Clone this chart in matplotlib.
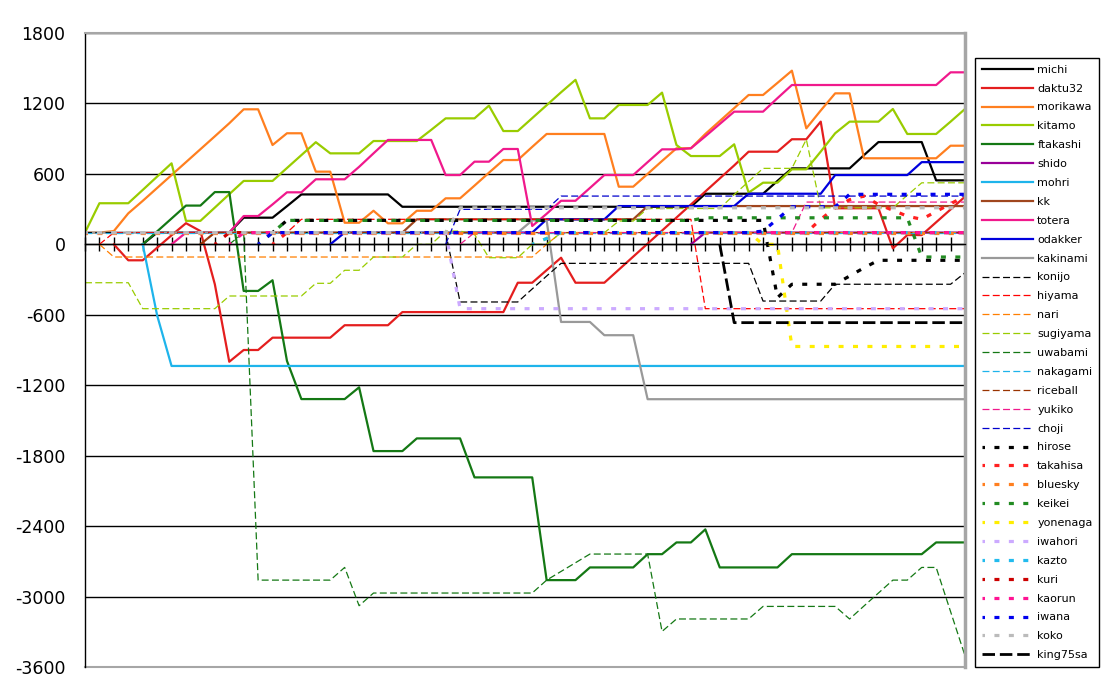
import numpy as np
import matplotlib.pyplot as plt

plt.rcParams['font.family'] = ['DejaVu Sans']
plt.rcParams['axes.unicode_minus'] = False
plt.rcParams['lines.scale_dashes'] = False

N = None
rounds = np.arange(62)

# solid
michi = [N, N, N, N, 0, 100, 100, 100, 100, 100,
         100, 227, 227, 227, 325, 425, 425, 425, 425, 425,
         425, 425, 320, 320, 320, 320, 320, 320, 320, 320,
         320, 320, 320, 320, 320, 320, 320, 320, 320, 320,
         320, 320, 320, 431, 431, 431, 431, 431, 540, 647,
         647, 647, 647, 647, 760, 871, 871, 871, 871, 545,
         545, 545]
daktu32 = [N, N, 0, -136, -136, -29, 77, 180, 113, -340,
           -1000, -900, -900, -795, -795, -795, -795, -795, -689, -689,
           -689, -689, -577, -577, -577, -577, -577, -577, -577, -577,
           -327, -327, -220, -114, -327, -327, -327, -216, -105, 6,
           117, 228, 339, 450, 561, 672, 789, 789, 789, 895,
           895, 1045, 307, 307, 307, 307, -34, 79, 79, 188,
           297, 406]
morikawa = [100, 100, 113, 264, 370, 480, 590, 700, 810, 920,
            1031, 1150, 1150, 846, 946, 946, 619, 619, 184, 184,
            286, 179, 179, 286, 286, 392, 392, 500, 610, 718,
            718, 830, 940, 940, 940, 940, 940, 491, 491, 600,
            710, 818, 818, 940, 1050, 1160, 1272, 1272, 1375, 1479,
            988, 1140, 1286, 1286, 733, 733, 733, 733, 733, 733,
            840, 840]
kitamo = [100, 350, 350, 350, 463, 577, 690, 200, 200, 313,
          427, 540, 540, 540, 650, 760, 870, 775, 775, 775,
          880, 880, 880, 880, 975, 1073, 1073, 1073, 1181, 965,
          965, 1075, 1185, 1295, 1401, 1073, 1073, 1187, 1187, 1187,
          1292, 846, 752, 752, 752, 852, 440, 525, 525, 639,
          639, 790, 946, 1045, 1045, 1045, 1153, 940, 940, 940,
          1045, 1153]
ftakashi = [N, N, N, N, 0, 110, 220, 330, 330, 445,
            445, -397, -397, -306, -993, -1318, -1318, -1318, -1318, -1218,
            -1761, -1761, -1761, -1653, -1653, -1653, -1653, -1985, -1985, -1985,
            -1985, -1985, -2860, -2860, -2860, -2752, -2752, -2752, -2752, -2639,
            -2639, -2539, -2539, -2428, -2752, -2752, -2752, -2752, -2752, -2639,
            -2639, -2639, -2639, -2639, -2639, -2639, -2639, -2639, -2639, -2539,
            -2539, -2539]
shido = [N, N, N, N, N, N, N, N, N, N,
         N, N, N, N, N, N, N, N, N, N,
         N, N, N, N, N, N, N, N, N, N,
         N, N, N, N, N, N, N, N, N, N,
         N, N, 0, 100, 100, 100, 100, 100, 100, 100,
         100, 100, 100, 100, 100, 100, 100, 100, 100, 100,
         100, 100]
mohri = [N, N, N, N, 0, -605, -1036, -1036, -1036, -1036,
         -1036, -1036, -1036, -1036, -1036, -1036, -1036, -1036, -1036, -1036,
         -1036, -1036, -1036, -1036, -1036, -1036, -1036, -1036, -1036, -1036,
         -1036, -1036, -1036, -1036, -1036, -1036, -1036, -1036, -1036, -1036,
         -1036, -1036, -1036, -1036, -1036, -1036, -1036, -1036, -1036, -1036,
         -1036, -1036, -1036, -1036, -1036, -1036, -1036, -1036, -1036, -1036,
         -1036, -1036]
kk = [N, N, N, N, N, N, N, N, 0, 100,
      100, 100, 100, 100, 100, 100, 100, 100, 100, 100,
      100, 100, 100, 213, 213, 213, 213, 213, 213, 213,
      213, 213, 213, 213, 213, 213, 213, 213, 213, 326,
      326, 326, 326, 326, 326, 326, 326, 326, 326, 326,
      326, 326, 326, 326, 326, 326, 326, 326, 326, 326,
      326, 326]
totera = [N, N, N, N, N, N, 0, 100, 100, 100,
          100, 241, 241, 340, 443, 443, 554, 554, 554, 660,
          775, 889, 889, 889, 889, 590, 590, 704, 704, 812,
          812, 156, 260, 371, 371, 480, 590, 590, 590, 700,
          809, 809, 818, 920, 1025, 1130, 1130, 1130, 1245, 1357,
          1357, 1357, 1357, 1357, 1357, 1357, 1357, 1357, 1357, 1357,
          1465, 1465]
odakker = [N, N, N, N, N, N, N, N, N, N,
           N, N, N, N, N, N, N, 0, 100, 100,
           100, 100, 100, 100, 100, 100, 100, 100, 100, 100,
           100, 100, 213, 213, 213, 213, 213, 326, 326, 326,
           326, 326, 326, 326, 326, 326, 431, 431, 431, 431,
           431, 431, 590, 590, 590, 590, 590, 590, 700, 700,
           700, 700]
kakinami = [100, 100, 100, 100, 100, 100, 100, 100, 100, 100,
            100, 100, 100, 100, 100, 100, 100, 100, 100, 100,
            100, 100, 100, 100, 100, 100, 100, 100, 100, 100,
            100, 204, 204, -661, -661, -661, -774, -774, -774, -1319,
            -1319, -1319, -1319, -1319, -1319, -1319, -1319, -1319, -1319, -1319,
            -1319, -1319, -1319, -1319, -1319, -1319, -1319, -1319, -1319, -1319,
            -1319, -1319]

# thin dashed
konijo = [100, 100, 100, 100, 100, 100, 100, 100, 100, 100,
          100, 100, 100, 100, 100, 100, 100, 100, 100, 100,
          100, 100, 100, 100, 100, 100, -491, -491, -491, -491,
          -491, -380, -270, -162, -162, -162, -162, -162, -162, -162,
          -162, -162, -162, -162, -162, -162, -162, -483, -483, -483,
          -483, -483, -340, -340, -340, -340, -340, -340, -340, -340,
          -340, -242]
hiyama = [N, 0, 100, 100, 100, 100, 100, 100, 100, 100,
          100, 100, 100, 100, 100, 213, 213, 213, 213, 213,
          213, 213, 213, 213, 213, 213, 213, 213, 213, 213,
          213, 213, 213, 213, 213, 213, 213, 213, 213, 213,
          213, 213, 213, -548, -548, -548, -548, -548, -548, -548,
          -548, -548, -548, -548, -548, -548, -548, -548, -548, -548,
          -548, -548]
nari = [N, 0, -108, -108, -108, -108, -108, -108, -108, -108,
        -108, -108, -108, -108, -108, -108, -108, -108, -108, -108,
        -108, -108, -108, -108, -108, -108, -108, -108, -108, -108,
        -108, -108, 0, 100, 100, 100, 100, 100, 100, 100,
        100, 100, 100, 100, 100, 100, 100, 100, 100, 100,
        100, 100, 100, 100, 100, 100, 100, 100, 100, 100,
        100, 100]
sugiyama = [-327, -327, -327, -327, -548, -548, -548, -548, -548, -548,
            -440, -440, -440, -440, -440, -440, -332, -332, -221, -221,
            -108, -108, -108, 0, 0, 113, 113, 85, -114, -114,
            -114, 0, 0, 99, 99, 99, 99, 198, 198, 305,
            305, 305, 305, 305, 305, 423, 535, 647, 647, 647,
            894, 311, 311, 311, 311, 311, 311, 418, 524, 524,
            524, 524]
uwabami = [N, N, N, N, N, N, N, N, N, N,
           0, 100, -2860, -2860, -2860, -2860, -2860, -2860, -2752, -3078,
           -2970, -2970, -2970, -2970, -2970, -2970, -2970, -2970, -2970, -2970,
           -2970, -2970, -2860, -2786, -2712, -2638, -2638, -2638, -2638, -2638,
           -3297, -3191, -3191, -3191, -3191, -3191, -3191, -3084, -3084, -3084,
           -3084, -3084, -3084, -3191, -3080, -2970, -2860, -2860, -2752, -2752,
           -3128, -3504]
nakagami = [100, 100, 100, 100, 100, 100, 100, 100, 100, 100,
            100, 100, 100, 100, 100, 100, 100, 100, 100, 100,
            100, 100, 100, 100, 100, 100, 100, 100, 100, 100,
            100, 100, 100, 100, 100, 100, 100, 100, 100, 100,
            100, 100, 100, 100, 100, 100, 100, 100, 100, 100,
            100, 100, 100, 100, 100, 100, 100, 100, 100, 100,
            100, 100]
riceball = [N, N, N, N, N, N, N, N, 0, 100,
            100, 100, 100, 100, 100, 100, 100, 100, 100, 100,
            100, 100, 100, 100, 100, 100, 100, 100, 100, 100,
            100, 100, 100, 100, 100, 100, 100, 100, 100, 100,
            100, 100, 100, 100, 100, 100, 100, 100, 100, 100,
            100, 100, 100, 100, 100, 100, 100, 100, 100, 100,
            100, 100]
yukiko = [N, N, N, N, N, N, N, N, N, N,
          N, N, N, N, N, N, N, N, N, N,
          N, N, N, N, N, N, 0, 100, 100, 100,
          100, 100, 100, 100, 100, 100, 100, 100, 100, 100,
          100, 100, 100, 100, 100, 100, 100, 100, 100, 100,
          360, 360, 360, 360, 360, 360, 360, 360, 360, 360,
          360, 360]
choji = [N, N, N, N, N, N, N, N, N, N,
         N, N, N, N, N, N, N, N, N, N,
         N, N, N, N, N, 0, 298, 298, 298, 298,
         298, 298, 298, 411, 411, 411, 411, 411, 411, 411,
         411, 411, 411, 411, 411, 411, 411, 411, 411, 411,
         411, 411, 411, 411, 411, 411, 411, 411, 411, 411,
         411, 411]

# dotted
hirose = [N, N, N, N, N, N, N, N, N, N,
          N, N, N, 100, 204, 204, 204, 204, 204, 204,
          204, 204, 204, 204, 204, 204, 204, 204, 204, 204,
          204, 204, 204, 204, 204, 204, 204, 204, 204, 204,
          204, 204, 204, 204, 204, 204, 204, 204, -454, -340,
          -340, -340, -340, -270, -200, -136, -136, -136, -136, -136,
          -136, -136]
takahisa = [N, N, N, N, N, N, N, N, N, N,
            N, N, N, 0, 100, 100, 100, 100, 100, 100,
            100, 100, 100, 100, 100, 100, 100, 100, 100, 100,
            100, 100, 100, 100, 100, 100, 100, 100, 100, 100,
            100, 100, 100, 100, 100, 100, 100, 100, 100, 100,
            100, 213, 311, 380, 411, 340, 290, 240, 213, 280,
            345, 411]
bluesky = [100, 100, 100, 100, 100, 100, 100, 100, 100, 100,
           100, 100, 100, 100, 100, 100, 100, 100, 100, 100,
           100, 100, 100, 100, 100, 100, 100, 100, 100, 100,
           100, 100, 100, 100, 100, 100, 100, 100, 100, 100,
           100, 100, 100, 100, 100, 100, 100, 100, 100, 100,
           100, 100, 100, 100, 100, 100, 100, 100, 100, 100,
           100, 100]
keikei = [N, N, N, N, N, N, N, N, N, N,
          N, N, 0, 100, 204, 204, 204, 204, 204, 204,
          204, 204, 204, 204, 204, 204, 204, 204, 204, 204,
          204, 204, 204, 204, 204, 204, 204, 204, 204, 204,
          204, 204, 204, 226, 226, 226, 226, 226, 226, 226,
          226, 226, 226, 226, 226, 226, 226, 226, -108, -108,
          -108, -108]
yonenaga = [N, N, N, N, N, N, N, N, N, N,
            N, N, N, N, N, N, N, N, N, N,
            N, N, N, N, N, N, N, N, N, N,
            N, 0, 50, 100, 100, 100, 100, 100, 100, 100,
            100, 100, 100, 100, 100, 100, 100, 0, 0, -870,
            -870, -870, -870, -870, -870, -870, -870, -870, -870, -870,
            -870, -870]
iwahori = [100, 100, 100, 100, 100, 100, 100, 100, 100, 100,
           100, 100, 100, 100, 100, 100, 100, 100, 100, 100,
           100, 100, 100, 100, 100, 100, -548, -548, -548, -548,
           -548, -548, -548, -548, -548, -548, -548, -548, -548, -548,
           -548, -548, -548, -548, -548, -548, -548, -548, -548, -548,
           -548, -548, -548, -548, -548, -548, -548, -548, -548, -548,
           -548, -548]
kazto = [N, N, N, N, N, N, N, N, N, N,
         N, N, N, N, N, N, N, N, N, N,
         N, N, N, N, N, N, N, N, N, N,
         N, 0, 50, 100, 100, 100, 100, 100, 100, 100,
         100, 100, 100, 100, 100, 100, 100, 100, 100, 100,
         100, 100, 100, 100, 100, 100, 100, 100, 100, 100,
         100, 100]
kuri = [N, N, N, N, N, N, N, N, N, 0,
        100, 100, 100, 100, 100, 100, 100, 100, 100, 100,
        100, 100, 100, 100, 100, 100, 100, 100, 100, 100,
        100, 100, 100, 100, 100, 100, 100, 100, 100, 100,
        100, 100, 100, 100, 100, 100, 100, 100, 100, 100,
        100, 100, 100, 100, 100, 100, 100, 100, 100, 100,
        100, 100]
kaorun = [N, N, N, N, N, N, N, N, N, N,
          0, 100, 100, 100, 100, 100, 100, 100, 100, 100,
          100, 100, 100, 100, 100, 100, 100, 100, 100, 100,
          100, 100, 100, 100, 100, 100, 100, 100, 100, 100,
          100, 100, 100, 100, 100, 100, 100, 100, 100, 100,
          100, 100, 100, 100, 100, 100, 100, 100, 100, 100,
          100, 100]
iwana = [N, N, N, N, N, N, N, N, N, N,
         N, N, 0, 100, 100, 100, 100, 100, 100, 100,
         100, 100, 100, 100, 100, 100, 100, 100, 100, 100,
         100, 100, 100, 100, 100, 100, 100, 100, 100, 100,
         100, 100, 100, 100, 100, 100, 100, 113, 215, 320,
         320, 320, 320, 426, 426, 426, 426, 426, 426, 426,
         426, 426]
koko = [100, 100, 100, 100, 100, 100, 100, 100, 100, 100,
        100, 100, 100, 100, 100, 100, 100, 100, 100, 100,
        100, 100, 100, 100, 100, 100, 311, 311, 311, 311,
        311, 311, 311, 311, 311, 311, 311, 311, 311, 311,
        311, 311, 311, 311, 311, 311, 311, 311, 311, 311,
        311, 311, 311, 311, 311, 311, 311, 311, 311, 311,
        311, 311]

# long dash
king75sa = [N, N, N, N, N, N, N, N, N, N,
            N, N, N, N, N, N, N, N, N, N,
            N, N, N, N, N, N, N, N, N, N,
            N, N, N, N, N, N, N, N, N, N,
            N, N, N, N, 0, -667, -667, -667, -667, -667,
            -667, -667, -667, -667, -667, -667, -667, -667, -667, -667,
            -667, -667]

names = ["michi", "daktu32", "morikawa", "kitamo", "ftakashi", "shido", "mohri",
         "kk", "totera", "odakker", "kakinami",
         "konijo", "hiyama", "nari", "sugiyama", "uwabami", "nakagami", "riceball",
         "yukiko", "choji",
         "hirose", "takahisa", "bluesky", "keikei", "yonenaga", "iwahori", "kazto",
         "kuri", "kaorun", "iwana", "koko",
         "king75sa"]
series = [michi, daktu32, morikawa, kitamo, ftakashi, shido, mohri, kk, totera,
          odakker, kakinami,
          konijo, hiyama, nari, sugiyama, uwabami, nakagami, riceball, yukiko, choji,
          hirose, takahisa, bluesky, keikei, yonenaga, iwahori, kazto, kuri, kaorun,
          iwana, koko,
          king75sa]
colors = ["#000000", "#e41e1e", "#ff7f1f", "#99cc00", "#147814", "#990099",
          "#1eb4eb", "#a0461e", "#f0198c", "#0000dd", "#999999",
          "#000000", "#ff0000", "#ff7f00", "#99cc00", "#147814", "#1eb4eb",
          "#993300", "#f0198c", "#0000cc",
          "#000000", "#ff2020", "#ff7f1f", "#228b22", "#ffee00", "#ccaaff",
          "#22bbee", "#cc0000", "#ff1493", "#0000ee", "#bbbbbb",
          "#000000"]
kinds = ["solid"] * 11 + ["dash"] * 9 + ["dot"] * 11 + ["long"]

fig = plt.figure(figsize=(11.2, 7), dpi=100)
ax = fig.add_axes([85 / 1120, 33 / 700, 880 / 1120, 634 / 700])

handles = []
for vals, name, col, kind in zip(series, names, colors, kinds):
    y = np.array(vals, dtype=float)
    if kind == "solid":
        ln, = ax.plot(rounds, y, color=col, lw=1.6, label=name)
    elif kind == "dash":
        ln, = ax.plot(rounds, y, color=col, lw=0.9, ls=(0, (5.0, 2.4)), label=name)
    elif kind == "dot":
        ln, = ax.plot(rounds, y, color=col, lw=2.3, ls=(1.8, (3.6, 6.79)),
                      dash_capstyle='butt', label=name)
    else:
        ln, = ax.plot(rounds, y, color=col, lw=2.0, ls=(0, (9, 3.5)),
                      dash_capstyle='butt', label=name)
    handles.append(ln)

ax.set_xlim(0, 61)
ax.set_ylim(-3600, 1800)
ax.set_yticks(np.arange(-3600, 1801, 600))
ax.set_xticks(rounds)
ax.set_axisbelow(True)
ax.yaxis.grid(True, color="black", lw=1)

ax.spines['bottom'].set_position(('data', 0))
ax.spines['bottom'].set_color('black')
ax.spines['bottom'].set_linewidth(1)
ax.spines['left'].set_color('black')
ax.spines['left'].set_linewidth(1)
ax.spines['top'].set_color('#a6a6a6')
ax.spines['top'].set_linewidth(1.5)
ax.spines['right'].set_color('#a6a6a6')
ax.spines['right'].set_linewidth(2.5)
ax.plot([0, 1], [0, 0], transform=ax.transAxes, color='#a6a6a6', lw=1.5,
        clip_on=False)

ax.tick_params(axis='x', direction='inout', length=10, width=1, color='black',
               labelbottom=False)
ax.tick_params(axis='y', length=0, pad=14, labelsize=12.5)

leg = fig.legend(handles, names, loc='upper left',
                 bbox_to_anchor=(975 / 1120, 1 - 58 / 700), frameon=True,
                 fancybox=False, edgecolor='black', framealpha=1, fontsize=8,
                 handlelength=4.6, handletextpad=0.4, labelspacing=0.8,
                 borderpad=0.6, borderaxespad=0)
leg.get_frame().set_linewidth(1)

plt.savefig("out.png", dpi=100)
